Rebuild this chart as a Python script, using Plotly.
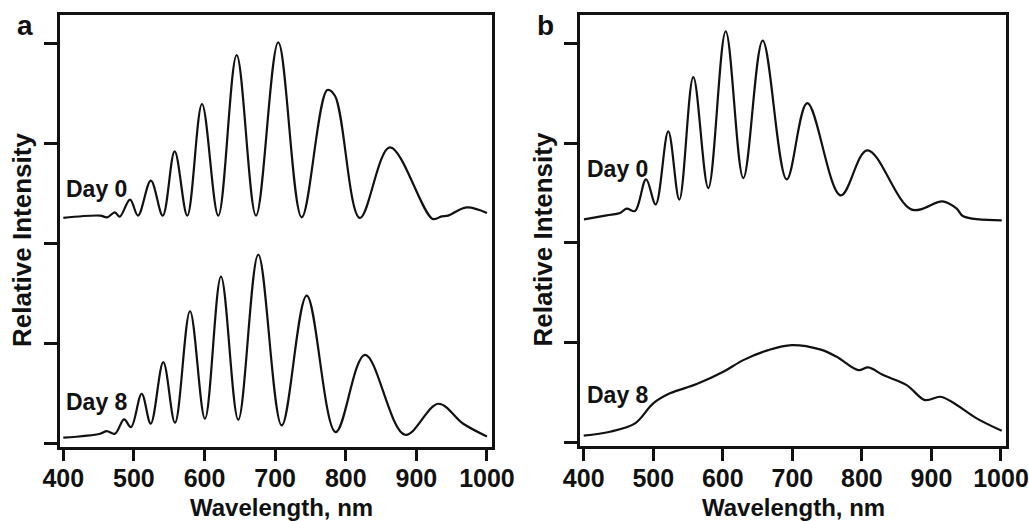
import plotly.graph_objects as go

# ---- data (wavelength in nm, relative intensity in tick units) ----
# panel a, day 0
wl_a0 = [400, 452, 462, 473, 480, 494.5, 505.8, 524, 540.8, 557.7, 575.6, 596.4, 619.5, 645.5, 672.9,
         704.4, 737.6, 773.8, 784.7, 820, 862.5, 923, 935.8, 945, 971, 1000]
int_a0 = [2.257, 2.28, 2.263, 2.313, 2.27, 2.44, 2.28, 2.63, 2.28, 2.923, 2.28, 3.397, 2.28, 3.887, 2.28,
          4.013, 2.263, 3.537, 3.48, 2.257, 2.963, 2.247, 2.273, 2.28, 2.363, 2.307]

# panel a, day 8
wl_a8 = [400, 452, 461.5, 473.2, 486, 495.9, 511, 523.8, 541.6, 558.2, 579.4, 600.6, 623.3, 647.8, 676.1,
         709.3, 744.7, 785.7, 827.2, 883.9, 931, 966.4, 1000]
int_a8 = [0.057, 0.097, 0.123, 0.097, 0.24, 0.163, 0.497, 0.197, 0.813, 0.207, 1.323, 0.247, 1.67, 0.237, 1.89,
          0.18, 1.48, 0.113, 0.887, 0.087, 0.397, 0.197, 0.07]

# panel b, day 0
wl_b0 = [400.4, 433, 452.2, 461.8, 473.8, 489.7, 503.5, 521.6, 537.5, 557.6, 579.2, 604.2, 629.5, 657.4,
         691.9, 721.5, 769.5, 807.8, 871.6, 916.2, 936.3, 945.8, 1001]
int_b0 = [2.237, 2.277, 2.30, 2.344, 2.32, 2.637, 2.387, 3.117, 2.434, 3.66, 2.55, 4.12, 2.65, 4.027,
          2.637, 3.40, 2.477, 2.927, 2.334, 2.417, 2.344, 2.267, 2.227]

# panel b, day 8
wl_b8 = [400, 437.8, 473.8, 500, 524, 562.5, 600.7, 629.5, 665.4, 699, 739.8, 763.8, 794.8, 809.2, 830.8,
         864.4, 890.7, 912.3, 929.1, 965, 1001]
int_b8 = [0.07, 0.11, 0.194, 0.394, 0.494, 0.587, 0.71, 0.827, 0.927, 0.977, 0.934, 0.86, 0.727, 0.754, 0.677,
          0.577, 0.427, 0.46, 0.41, 0.244, 0.12]

wl_ticks = [400, 500, 600, 700, 800, 900, 1000]
int_ticks = [0, 1, 2, 3, 4]

W, H = 1029, 521


def px_x(p):
    return p / W


def px_y(p):
    return 1 - p / H


fig = go.Figure()
line_style = dict(color='#111111', width=2.2, shape='spline', smoothing=1.0)
fig.add_trace(go.Scatter(x=wl_a0, y=int_a0, mode='lines', line=line_style, xaxis='x', yaxis='y'))
fig.add_trace(go.Scatter(x=wl_a8, y=int_a8, mode='lines', line=line_style, xaxis='x', yaxis='y'))
fig.add_trace(go.Scatter(x=wl_b0, y=int_b0, mode='lines', line=line_style, xaxis='x2', yaxis='y2'))
fig.add_trace(go.Scatter(x=wl_b8, y=int_b8, mode='lines', line=line_style, xaxis='x2', yaxis='y2'))

tick_font = dict(family='Liberation Sans, Arial', size=25, color='#111111', weight='bold')
x_common = dict(tickvals=wl_ticks, ticks='outside', ticklen=12, tickwidth=2.5, tickcolor='#111111',
                showline=True, linewidth=2.5, linecolor='#111111', mirror=True, automargin=False,
                showgrid=False, zeroline=False, tickfont=tick_font, ticklabelstandoff=-4)
y_common = dict(tickvals=int_ticks, ticks='outside', ticklen=13, tickwidth=2.5, tickcolor='#111111',
                showline=True, linewidth=2.5, linecolor='#111111', mirror=True, automargin=False,
                showgrid=False, zeroline=False, showticklabels=False)

fig.update_layout(
    width=W, height=H,
    margin=dict(l=0, r=0, t=0, b=0, autoexpand=False),
    paper_bgcolor='white', plot_bgcolor='white',
    showlegend=False,
    xaxis=dict(domain=[px_x(59.5), px_x(491.7)], range=[394.6, 1006.7], anchor='y', **x_common),
    yaxis=dict(domain=[px_y(446.7), px_y(15)], range=[-0.033, 4.288], anchor='x', **y_common),
    xaxis2=dict(domain=[px_x(580), px_x(1006)], range=[394.7, 1007.2], anchor='y2', **x_common),
    yaxis2=dict(domain=[px_y(446), px_y(15)], range=[-0.033, 4.283], anchor='x2', **y_common),
)

label_font = dict(family='Liberation Sans, Arial', color='#111111', weight='bold')
notes = [
    # text, x px, y px, size, angle, xanchor
    ('a', 25, 25, 28, 0, 'center'),
    ('b', 545, 25, 28, 0, 'center'),
    ('Relative Intensity', 22, 240, 26, -90, 'center'),
    ('Relative Intensity', 542.5, 240, 26, -90, 'center'),
    ('Wavelength, nm', 281, 507, 24, 0, 'center'),
    ('Wavelength, nm', 793, 507, 24, 0, 'center'),
    ('Day 0', 64, 189, 23, 0, 'left'),
    ('Day 8', 64, 402, 23, 0, 'left'),
    ('Day 0', 585, 169, 23, 0, 'left'),
    ('Day 8', 585, 395, 23, 0, 'left'),
]
for text, x, y, size, angle, xa in notes:
    fig.add_annotation(text=text, x=px_x(x), y=px_y(y), xref='paper', yref='paper',
                       showarrow=False, xanchor=xa, yanchor='middle', textangle=angle,
                       font=dict(size=size, **label_font))

# the page body has a default 8px margin; drop it so the figure fills the window
fig.write_html("out.html", config={'displayModeBar': False},
               post_script="document.body.style.margin='0';")
